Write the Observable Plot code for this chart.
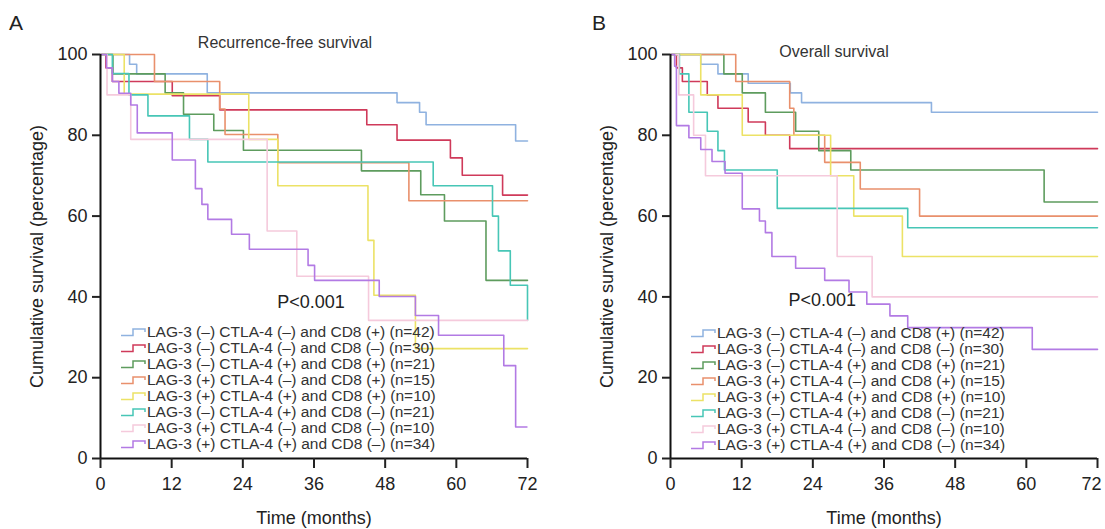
<!DOCTYPE html>
<html><head><meta charset="utf-8">
<script src="https://cdn.jsdelivr.net/npm/d3@7"></script>
<script src="https://cdn.jsdelivr.net/npm/@observablehq/plot@0.6"></script>
<style>
body{margin:0;background:#fff;font-family:"Liberation Sans",Arial,sans-serif;color:#222}
#wrap{position:relative;width:1105px;height:529px;overflow:hidden}
.abs{position:absolute;white-space:nowrap;line-height:1}
.panel{position:absolute;top:0}
.panel svg{overflow:visible}
.legend{position:absolute;font-size:15.5px;color:#333}
.legend .row{display:flex;align-items:center;height:16px;white-space:nowrap}
.legend svg{width:26px;height:10px;flex:none}
</style></head><body>
<div id="wrap"></div>
<script>
// ---- categories / labels ----
const groupLabels = [
  "LAG-3 (–) CTLA-4 (–) and CD8 (+) (n=42)",
  "LAG-3 (–) CTLA-4 (–) and CD8 (–) (n=30)",
  "LAG-3 (–) CTLA-4 (+) and CD8 (+) (n=21)",
  "LAG-3 (+) CTLA-4 (–) and CD8 (+) (n=15)",
  "LAG-3 (+) CTLA-4 (+) and CD8 (+) (n=10)",
  "LAG-3 (–) CTLA-4 (+) and CD8 (–) (n=21)",
  "LAG-3 (+) CTLA-4 (–) and CD8 (–) (n=10)",
  "LAG-3 (+) CTLA-4 (+) and CD8 (–) (n=34)"
];
const groupColors = ["#8fb2e0","#cf3a5a","#5e9c5e","#e9906c","#ece266","#47c6b6","#f5cadc","#b27ae4"];
const xTicks = [0, 12, 24, 36, 48, 60, 72];
const yTicks = [0, 20, 40, 60, 80, 100];
const panelTitles = ["Recurrence-free survival", "Overall survival"];
const panelLetters = ["A", "B"];
const pText = "P<0.001";
const pPosRFS = [[35.5, 38.6]];
const pPosOS = [[25.6, 39.2]];

// ---- Recurrence-free survival: [month, survival %] step points ----
const rfs1 = [[0,100],[4.9,97.6],[6.1,95.2],[18,90.5],[50,88.1],[53.8,85.7],[54.9,82.6],[70,78.6],[72,78.6]];
const rfs2 = [[0,100],[0.9,96.7],[2,93.3],[12.1,89.8],[20.1,86.3],[44.9,82.6],[50,78.8],[59,74.4],[61,70.1],[67.8,65.2],[72,65.2]];
const rfs3 = [[0,100],[2.1,95.2],[10.9,90.5],[14,85.2],[19.1,81.2],[24.1,76.3],[44,71.2],[54,65.3],[58,58.8],[65,44.1],[72,44.1]];
const rfs4 = [[0,100],[9.1,93.3],[20.1,86.5],[21,80.2],[29.9,73.2],[52,63.8],[72,63.8]];
const rfs5 = [[0,100],[4,90.2],[25,79],[29.9,67.5],[45.1,54],[46.1,40.4],[53.1,27.2],[72,27.2]];
const rfs6 = [[0,100],[2,95.3],[4.8,90],[8,84.8],[15,79],[18.1,73.4],[56.1,67.5],[66.1,60],[67.1,51.4],[69.1,42.9],[72,34.2]];
const rfs7 = [[0,100],[1.1,90],[5.1,79],[28.1,56.3],[33.1,45.1],[45.2,34.2],[72,34.2]];
const rfs8 = [[0,100],[1,96.7],[2,93.3],[3.1,90.4],[5.1,87.5],[6.2,80.6],[12.1,73.9],[16,66.8],[17.1,62.9],[18.1,59.2],[22.1,55.5],[25.1,51.8],[35,47.8],[36.1,44.1],[47,40.1],[53.1,35.4],[57,30.5],[68,23],[70,7.8],[71.9,7.8]];

// ---- Overall survival ----
const os1 = [[0,100],[5.1,97.6],[8,95.2],[13.1,92.9],[20.2,90.5],[22.1,88.1],[44,85.7],[72,85.7]];
const os2 = [[0,100],[1,96.7],[2,93.3],[6.2,90],[8,86.7],[13.1,83.3],[16,80],[20.1,76.7],[72,76.7]];
const os3 = [[0,100],[9,95.2],[12.1,90.5],[16,85.7],[21.1,81],[25,76.2],[30.4,71.4],[63,63.5],[72,63.5]];
const os4 = [[0,100],[11,93.3],[20.1,86.7],[20.8,80],[26,73.3],[32,66.7],[42,60],[72,60]];
const os5 = [[0,100],[5.1,90],[12.1,80],[27,70],[30.9,60],[39.1,50],[72,50]];
const os6 = [[0,100],[1.5,95.2],[3.1,85.7],[6.2,81],[8,76.2],[9.1,71.4],[18,61.9],[40,57.1],[72,57.1]];
const os7 = [[0,100],[1.4,90],[3.9,80],[5.9,70],[28.1,50],[34,40],[72,40]];
const os8 = [[0,100],[0.7,97.1],[1,82.4],[3.1,79.4],[5.1,76.5],[7,73.5],[9.2,70.6],[12.1,61.8],[15,58.8],[16,55.9],[17.1,50],[21.1,47.1],[26,44.1],[30.1,41.2],[33.1,38.2],[37,35.3],[40,32.4],[61,27],[72,27]];

const rfsSeries = [rfs1, rfs2, rfs3, rfs4, rfs5, rfs6, rfs7, rfs8];
const osSeries = [os1, os2, os3, os4, os5, os6, os7, os8];

const FONT = "'Liberation Sans', Arial, sans-serif";
const wrap = document.getElementById("wrap");
const lastTick = xTicks[xTicks.length - 1];

function makePlot(series, pPos, opts) {
  const lines = series.map((s, i) => Plot.line(s, {
    x: d => d[0], y: d => d[1], curve: "step-after",
    stroke: groupColors[i], strokeWidth: 1.6
  }));
  return Plot.plot({
    width: opts.width, height: 529,
    marginLeft: opts.ml, marginRight: opts.mr, marginTop: 54, marginBottom: 71,
    style: {fontFamily: FONT, fontSize: "17px", color: "#222", background: "transparent", overflow: "visible"},
    x: {domain: [0, 72]},
    y: {domain: [0, 100]},
    marks: [
      ...lines,
      Plot.ruleY([0], {strokeWidth: 2, stroke: "#111"}),
      Plot.ruleX([0], {strokeWidth: 2, stroke: "#111"}),
      Plot.axisX({ticks: xTicks, tickSize: 10, tickPadding: 9, strokeWidth: 2, fontSize: 18,
        tickFormat: d => (opts.shiftLast && d === lastTick) ? "" : String(d),
        label: "Time (months)", labelAnchor: "center", labelOffset: 65, labelArrow: "none"}),
      ...(opts.shiftLast ? [Plot.axisX({ticks: [lastTick], tickSize: 0, tickPadding: 19, fontSize: 18, dx: -6, label: null})] : []),
      Plot.axisY({ticks: yTicks, tickSize: 8, tickPadding: 5, strokeWidth: 2, fontSize: 18,
        label: "Cumulative survival (percentage)", labelAnchor: "center", labelOffset: 70, labelArrow: "none"}),
      Plot.text(pPos, {x: d => d[0], y: d => d[1], text: () => pText, fontSize: 18, fill: "#222"})
    ]
  });
}

const panels = [
  {series: rfsSeries, p: pPosRFS, left: 0, width: 552, ml: 100, mr: 25, shiftLast: false, title: panelTitles[0], titleX: 285, titleY: 35, letterX: 9, legX: 121, legY: 324},
  {series: osSeries, p: pPosOS, left: 552, width: 553, ml: 118, mr: 8, shiftLast: true, title: panelTitles[1], titleX: 834, titleY: 44, letterX: 592, legX: 691, legY: 325}
];

panels.forEach((P, k) => {
  const div = document.createElement("div");
  div.className = "panel";
  div.style.left = P.left + "px";
  div.appendChild(makePlot(P.series, P.p, {width: P.width, ml: P.ml, mr: P.mr, shiftLast: P.shiftLast}));
  wrap.appendChild(div);

  const letter = document.createElement("div");
  letter.className = "abs";
  letter.textContent = panelLetters[k];
  Object.assign(letter.style, {left: P.letterX + "px", top: "12px", fontSize: "21px", color: "#222"});
  wrap.appendChild(letter);

  const t = document.createElement("div");
  t.className = "abs";
  t.textContent = P.title;
  Object.assign(t.style, {left: P.titleX + "px", top: P.titleY + "px", fontSize: "16px", color: "#333", transform: "translateX(-50%)"});
  wrap.appendChild(t);

  const leg = document.createElement("div");
  leg.className = "legend";
  Object.assign(leg.style, {left: P.legX + "px", top: P.legY + "px"});
  groupLabels.forEach((lab, i) => {
    const row = document.createElement("div");
    row.className = "row";
    row.innerHTML = `<svg viewBox="0 0 26 10"><path d="M0 8.5H12V2H24V5" fill="none" stroke="${groupColors[i]}" stroke-width="1.5"/></svg><span>${lab}</span>`;
    leg.appendChild(row);
  });
  wrap.appendChild(leg);
});
</script>
</body></html>
